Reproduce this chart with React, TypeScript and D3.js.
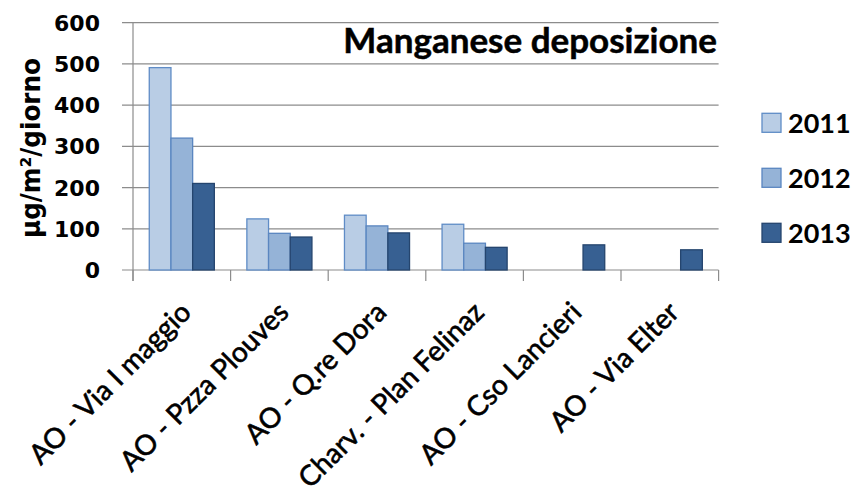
import React, { useEffect, useRef } from 'react'
import * as d3 from 'd3'

const categories = [
  'AO - Via I maggio',
  'AO - Pzza Plouves',
  'AO - Q.re Dora',
  'Charv. - Plan Felinaz',
  'AO - Cso Lancieri',
  'AO - Via Elter',
]
const years = ['2011', '2012', '2013']
const values2011 = [491, 124, 133, 111, null, null]
const values2012 = [320, 89, 107, 65, null, null]
const values2013 = [210, 80, 90, 55, 61, 49]
const yTicks = [0, 100, 200, 300, 400, 500, 600]

const fills = ['#B9CDE5', '#95B3D7', '#376092']
const strokes = ['#5F8CC6', '#5A86C0', '#25456E']

export default function App() {
  const ref = useRef<SVGSVGElement>(null)

  useEffect(() => {
    const svg = d3.select(ref.current)
    svg.selectAll('*').remove()

    const left = 133, right = 718.6, top = 22.7, bottom = 270
    const series = [values2011, values2012, values2013]

    const x0 = d3.scaleBand<string>().domain(categories).range([left, right]).padding(0)
    const x1 = d3.scaleBand<string>().domain(years).range([0, x0.bandwidth()])
      .paddingInner(0).paddingOuter(0.75)
    const y = d3.scaleLinear().domain([0, 600]).range([bottom, top])

    // gridlines, extended left as outward ticks
    svg.append('g').selectAll('line').data(yTicks).enter().append('line')
      .attr('x1', left - 11).attr('x2', right)
      .attr('y1', d => y(d)).attr('y2', d => y(d))
      .attr('stroke', '#8C8C8C').attr('stroke-width', 1.2)

    // left axis line
    svg.append('line').attr('x1', left).attr('x2', left)
      .attr('y1', top).attr('y2', bottom + 11)
      .attr('stroke', '#8C8C8C').attr('stroke-width', 1.2)

    // category ticks
    svg.append('g').selectAll('line').data(d3.range(categories.length + 1)).enter().append('line')
      .attr('x1', i => left + i * x0.step()).attr('x2', i => left + i * x0.step())
      .attr('y1', bottom).attr('y2', bottom + 11)
      .attr('stroke', '#8C8C8C').attr('stroke-width', 1.2)

    // bars
    series.forEach((vals, si) => {
      svg.append('g').selectAll('rect')
        .data(vals.map((v, i) => ({ v, c: categories[i] })).filter(d => d.v != null))
        .enter().append('rect')
        .attr('x', d => (x0(d.c) as number) + (x1(years[si]) as number))
        .attr('width', x1.bandwidth())
        .attr('y', d => y(d.v as number))
        .attr('height', d => bottom - y(d.v as number))
        .attr('fill', fills[si])
        .attr('stroke', strokes[si])
        .attr('stroke-width', 1.3)
    })

    // y tick labels
    svg.append('g').selectAll('text').data(yTicks).enter().append('text')
      .attr('x', 100).attr('y', d => y(d)).attr('dy', '0.37em')
      .attr('text-anchor', 'end')
      .style('font-family', 'DejaVu Sans').style('font-weight', 'bold').style('font-size', '22px')
      .text(d => d)

    // y axis title
    svg.append('text')
      .attr('transform', 'translate(40,148) rotate(-90)')
      .attr('text-anchor', 'middle')
      .attr('textLength', 180).attr('lengthAdjust', 'spacingAndGlyphs')
      .style('font-family', 'DejaVu Sans').style('font-weight', 'bold').style('font-size', '26px')
      .text('µg/m²/giorno')

    // x labels
    svg.append('g').selectAll('text').data(categories).enter().append('text')
      .attr('transform', d => `translate(${(x0(d) as number) + x0.bandwidth() / 2 + 11},314) rotate(-45)`)
      .attr('text-anchor', 'end')
      .attr('stroke', '#000').attr('stroke-width', 0.6)
      .style('font-family', 'Lato').style('font-size', '28px')
      .text(d => d)

    // title
    svg.append('text')
      .attr('x', 717).attr('y', 53)
      .attr('text-anchor', 'end')
      .attr('stroke', '#000').attr('stroke-width', 0.5)
      .style('font-family', 'Lato').style('font-weight', 'bold').style('font-size', '35px')
      .text('Manganese deposizione')

    // legend
    const lg = svg.append('g').selectAll('g').data(years).enter().append('g')
      .attr('transform', (d, i) => `translate(762,${113.3 + i * 55})`)
    lg.append('rect').attr('width', 19).attr('height', 19)
      .attr('fill', (d, i) => fills[i]).attr('stroke', (d, i) => strokes[i]).attr('stroke-width', 1.3)
    lg.append('text').attr('x', 26).attr('y', 19.4)
      .style('font-family', 'Lato').style('font-weight', 'bold').style('font-size', '27px')
      .text(d => d)
  }, [])

  return (
    <svg ref={ref} width={854} height={495}
      style={{ position: 'absolute', left: 0, top: 0, background: '#fff' }} />
  )
}
